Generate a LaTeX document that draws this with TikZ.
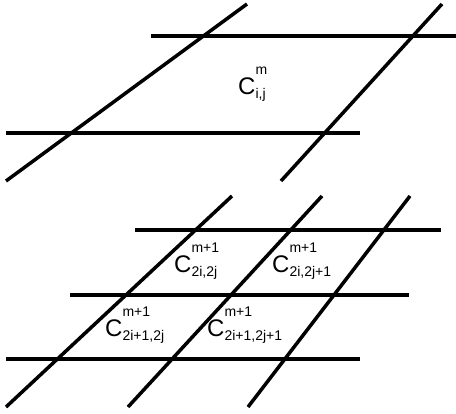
\documentclass[tikz,border=0pt]{standalone}
\usepackage{fontspec}
\setmainfont{Liberation Sans}
\usepackage{tikz}

% cell symbol with stacked super- and subscript
\newcommand{\cellsym}[2]{C\rlap{\raisebox{20pt}{\fontsize{14}{14}\selectfont #1}}\raisebox{-3.5pt}{\fontsize{14}{14}\selectfont #2}}

\begin{document}
\begin{tikzpicture}[x=1pt, y=-1pt, gridline/.style={line width=3.5pt},
    every node/.style={font=\fontsize{24}{24}\selectfont, inner sep=0pt}]
    \useasboundingbox (0,0) rectangle (456,414);

    % level m
    \draw[gridline] (151,36) -- (456,36);
    \draw[gridline] (6,133) -- (360,133);
    \draw[gridline] (6,181) -- (247,4);
    \draw[gridline] (281,181) -- (442,4);
    \node[anchor=base west] (cm) at (238,95) {\cellsym{m}{i,j}};

    % level m+1
    \draw[gridline] (135,230) -- (441,230);
    \draw[gridline] (70,295) -- (409,295);
    \draw[gridline] (6,359) -- (360,359);
    \draw[gridline] (6,407) -- (232,196);
    \draw[gridline] (128,407) -- (322,196);
    \draw[gridline] (248,407) -- (410,196);
    \node[anchor=base west] (caa) at (174,273) {\cellsym{m+1}{2i,2j}};
    \node[anchor=base west] (cab) at (272,273) {\cellsym{m+1}{2i,2j+1}};
    \node[anchor=base west] (cba) at (105,337) {\cellsym{m+1}{2i+1,2j}};
    \node[anchor=base west] (cbb) at (207,337) {\cellsym{m+1}{2i+1,2j+1}};
\end{tikzpicture}
\end{document}
